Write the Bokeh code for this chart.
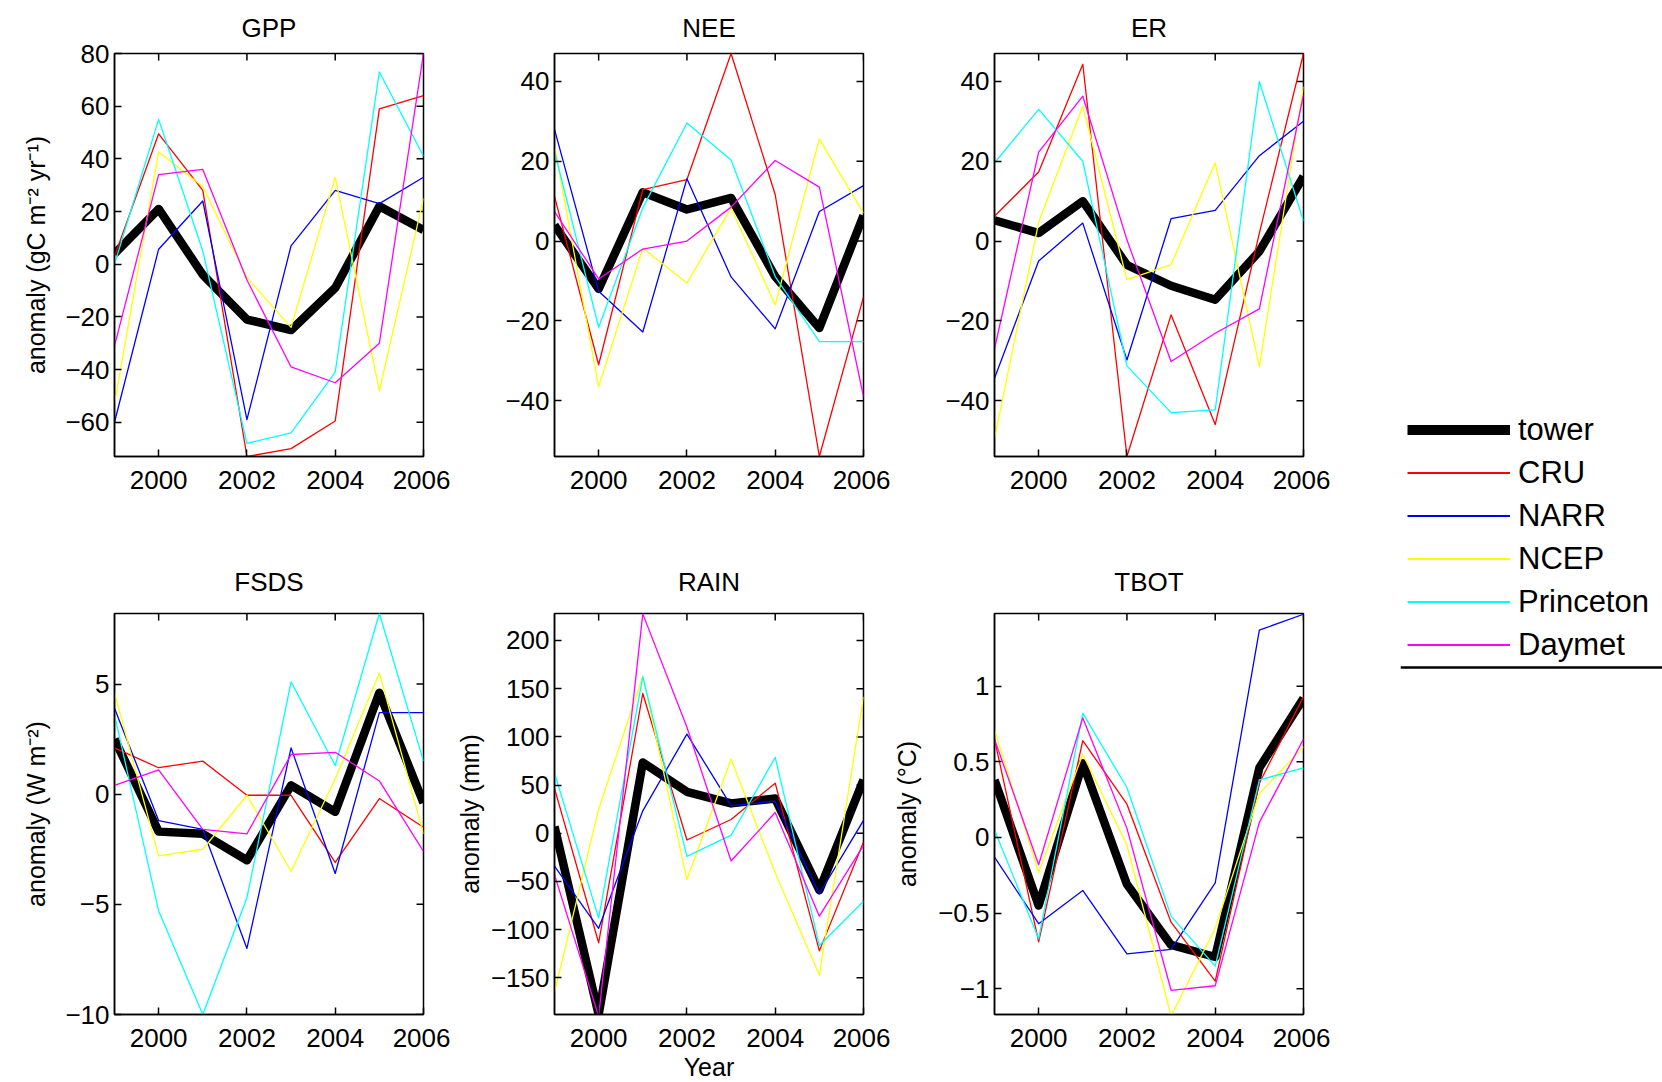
import math
from bokeh.plotting import figure
from bokeh.layouts import row, column
from bokeh.models import (Range1d, FixedTicker, CustomJSTickFormatter,
                          Legend, LegendItem, Span)
from bokeh.embed import file_html
from bokeh.resources import INLINE

# ---------------- data ----------------
years = [1999, 2000, 2001, 2002, 2003, 2004, 2005, 2006]
series = ["tower", "CRU", "NARR", "NCEP", "Princeton", "Daymet"]
colors = ["black", "#ff0000", "#0000ff", "#ffff00", "#00ffff", "#ff00ff"]

gpp_tower = [4, 21, -4, -21, -25, -9, 22, 13]
gpp_cru = [3, 49.5, 28, -73, -70, -59.5, 59, 64]
gpp_narr = [-60, 5.7, 24, -59, 7, 28, 23, 33]
gpp_ncep = [-53, 42.6, 29.5, -5, -24, 33, -48, 25]
gpp_princeton = [0, 55, 5, -68, -64, -41, 73, 41]
gpp_daymet = [-31, 34, 36, -6, -39, -45, -30, 80]

nee_tower = [4, -12, 12.2, 7.9, 10.8, -8.9, -21.8, 6.4]
nee_cru = [11.2, -31, 12.9, 15.4, 47, 11.6, -54, -14]
nee_narr = [28, -12.6, -22.8, 15.6, -9, -22, 7.4, 13.9]
nee_ncep = [23.8, -36.5, -1.8, -10.5, 8.3, -16, 25.6, 7]
nee_princeton = [22.5, -21.6, 8.3, 29.6, 20.3, -8.9, -25.2, -25.2]
nee_daymet = [7.4, -9.5, -2, 0, 8.5, 20.2, 13.5, -39]

er_tower = [5.2, 2, 10, -6, -11.2, -14.7, -2.6, 16.2]
er_cru = [6.2, 17.3, 44.3, -54, -18.5, -46, 2, 47]
er_narr = [-34.4, -5, 4.5, -29.8, 5.6, 7.7, 21.4, 30]
er_ncep = [-49.5, 4.7, 33.8, -9.7, -5.9, 19.6, -31.5, 38.7]
er_princeton = [19.6, 33, 20, -31.3, -43, -42.3, 40, 5]
er_daymet = [-27, 22.3, 36.3, 0.3, -30.2, -23.1, -17, 36.7]

fsds_tower = [2.5, -1.7, -1.8, -3.0, 0.4, -0.8, 4.6, -0.4]
fsds_cru = [2.1, 1.2, 1.5, -0.05, -0.05, -3.1, -0.2, -1.5]
fsds_narr = [3.9, -1.2, -1.6, -7.0, 2.1, -3.6, 3.7, 3.7]
fsds_ncep = [4.6, -2.8, -2.5, -0.05, -3.5, 0.7, 5.5, -1.8]
fsds_princeton = [3.6, -5.3, -10, -4.7, 5.1, 1.3, 8.2, 1.5]
fsds_daymet = [0.4, 1.1, -1.6, -1.8, 1.8, 1.9, 0.6, -2.6]

rain_tower = [7, -188, 73.5, 43, 31, 36, -59, 55.5]
rain_cru = [46.6, -113.6, 145, -7, 14.3, 52, -122, -9]
rain_narr = [-34, -98.6, 23.3, 102.9, 28.7, 33.3, -62.7, 13.3]
rain_ncep = [-165, 25, 163, -48, 77, -41, -147, 141.6]
rain_princeton = [62.7, -88, 162.4, -24, -2, 78.8, -116.5, -70.6]
rain_daymet = [-43, -190, 227.6, 110, -28.7, 21.5, -86, -12.5]

tbot_tower = [0.38, -0.45, 0.49, -0.31, -0.71, -0.79, 0.46, 0.92]
tbot_cru = [0.65, -0.69, 0.64, 0.22, -0.56, -0.95, 0.36, 0.93]
tbot_narr = [-0.13, -0.57, -0.35, -0.77, -0.74, -0.3, 1.37, 1.475]
tbot_ncep = [0.71, -0.23, 0.55, -0.05, -1.18, -0.6, 0.29, 0.6]
tbot_princeton = [0.05, -0.67, 0.82, 0.33, -0.52, -0.85, 0.38, 0.46]
tbot_daymet = [0.65, -0.18, 0.79, 0.06, -1.01, -0.98, 0.1, 0.65]

x_ticks = [2000, 2002, 2004, 2006]

panels = [
    dict(title="GPP", data=[gpp_tower, gpp_cru, gpp_narr, gpp_ncep, gpp_princeton, gpp_daymet],
         yr=(-73, 80), yt=[-60, -40, -20, 0, 20, 40, 60, 80],
         yl="anomaly (gC m\u207b\u00b2 yr\u207b\u00b9)", ylso=12),
    dict(title="NEE", data=[nee_tower, nee_cru, nee_narr, nee_ncep, nee_princeton, nee_daymet],
         yr=(-54, 47), yt=[-40, -20, 0, 20, 40], yl=None),
    dict(title="ER", data=[er_tower, er_cru, er_narr, er_ncep, er_princeton, er_daymet],
         yr=(-54, 47), yt=[-40, -20, 0, 20, 40], yl=None),
    dict(title="FSDS", data=[fsds_tower, fsds_cru, fsds_narr, fsds_ncep, fsds_princeton, fsds_daymet],
         yr=(-10, 8.2), yt=[-10, -5, 0, 5], yl="anomaly (W m\u207b\u00b2)", ylso=12),
    dict(title="RAIN", data=[rain_tower, rain_cru, rain_narr, rain_ncep, rain_princeton, rain_daymet],
         yr=(-188, 228), yt=[-150, -100, -50, 0, 50, 100, 150, 200], yl="anomaly (mm)", ylso=4,
         xl="Year"),
    dict(title="TBOT", data=[tbot_tower, tbot_cru, tbot_narr, tbot_ncep, tbot_princeton, tbot_daymet],
         yr=(-1.17, 1.48), yt=[-1, -0.5, 0, 0.5, 1], yl="anomaly (\u00b0C)", ylso=14),
]

FONT = "Liberation Sans"
FS = "26px"
fmt_code = "return (tick < 0 ? '\u2212' : '') + Math.abs(tick).toString();"


def make_panel(cfg, idx):
    rowi = idx // 3
    coli = idx % 3
    left = 114 if coli == 0 else 104
    right = 27
    if rowi == 0:
        top, fh, bottom, tso = 53, 403, 74, 21
    else:
        top, fh, bottom, tso = 83, 401, 68, 34
    y0, y1 = cfg["yr"]
    p = figure(frame_width=309, frame_height=fh, output_backend="svg", toolbar_location=None,
               x_range=Range1d(1999, 2006), y_range=Range1d(y0, y1),
               min_border_left=left, min_border_right=right,
               min_border_top=top, min_border_bottom=bottom,
               background_fill_color="white", border_fill_color="white")
    p.title.text = cfg["title"]
    p.title.align = "center"
    p.title.text_font = FONT
    p.title.text_font_size = FS
    p.title.text_font_style = "normal"
    p.title.text_color = "black"
    p.title.standoff = tso
    p.xgrid.visible = False
    p.ygrid.visible = False
    p.outline_line_color = "black"
    p.outline_line_width = 1.5
    p.outline_line_alpha = 1

    for ax, ticks in ((p.xaxis[0], x_ticks), (p.yaxis[0], cfg["yt"])):
        ax.ticker = FixedTicker(ticks=ticks)
        ax.formatter = CustomJSTickFormatter(code=fmt_code)
        ax.major_tick_in = 7
        ax.major_tick_out = 0
        ax.minor_tick_in = 0
        ax.minor_tick_out = 0
        ax.axis_line_color = "black"
        ax.axis_line_width = 1.5
        ax.major_tick_line_color = "black"
        ax.major_tick_line_width = 1.5
        ax.major_label_text_font = FONT
        ax.major_label_text_font_size = FS
        ax.major_label_text_color = "black"
        ax.axis_label_text_font = FONT
        ax.axis_label_text_font_size = "25px"
        ax.axis_label_text_font_style = "normal"
        ax.axis_label_text_color = "black"
    p.xaxis[0].major_label_standoff = 14
    p.yaxis[0].major_label_standoff = 5
    if cfg.get("yl"):
        p.yaxis[0].axis_label = cfg["yl"]
        p.yaxis[0].axis_label_standoff = cfg["ylso"]
    if cfg.get("xl"):
        p.xaxis[0].axis_label = cfg["xl"]
        p.xaxis[0].axis_label_standoff = 3

    # inward ticks along the top and right edges of the box (clipped to the frame)
    p.scatter(x=[1999 + 7] * len(cfg["yt"]), y=cfg["yt"], marker="dash", size=14,
              line_color="black", line_width=1.5)
    p.scatter(x=x_ticks, y=[y1] * len(x_ticks), marker="dash", size=14, angle=math.pi / 2,
              line_color="black", line_width=1.5)

    for k, (name, col) in enumerate(zip(series, colors)):
        lw = 8.5 if k == 0 else 1.3
        p.line(years, cfg["data"][k], line_color=col, line_width=lw, line_join="round")
    return p


figs = [make_panel(c, i) for i, c in enumerate(panels)]

# ---------------- legend panel ----------------
lg = figure(frame_width=262, frame_height=1082, output_backend="svg", toolbar_location=None,
            x_range=Range1d(0, 1), y_range=Range1d(1082, 0),
            min_border_left=70, min_border_right=0, min_border_top=0, min_border_bottom=0,
            x_axis_type=None, y_axis_type=None, outline_line_color=None)
lg.xgrid.visible = False
lg.ygrid.visible = False
items = []
nan = float("nan")
for k, (name, col) in enumerate(zip(series, colors)):
    r = lg.line(x=[nan, nan], y=[nan, nan], line_color=col, line_width=(10 if k == 0 else 2))
    items.append(LegendItem(label=name, renderers=[r]))
leg = Legend(items=items, location=(7, 416), padding=0, margin=0, spacing=0,
             glyph_width=103, glyph_height=43, label_height=43, label_standoff=8,
             label_text_font=FONT, label_text_font_size="31px", label_text_color="black",
             border_line_alpha=0, background_fill_alpha=0)
lg.add_layout(leg)
lg.add_layout(Span(location=667, dimension="width", line_color="black", line_width=2.5))

layout = row(column(row(*figs[:3]), row(*figs[3:])), lg)

open("out.html", "w").write(file_html(layout, INLINE))
